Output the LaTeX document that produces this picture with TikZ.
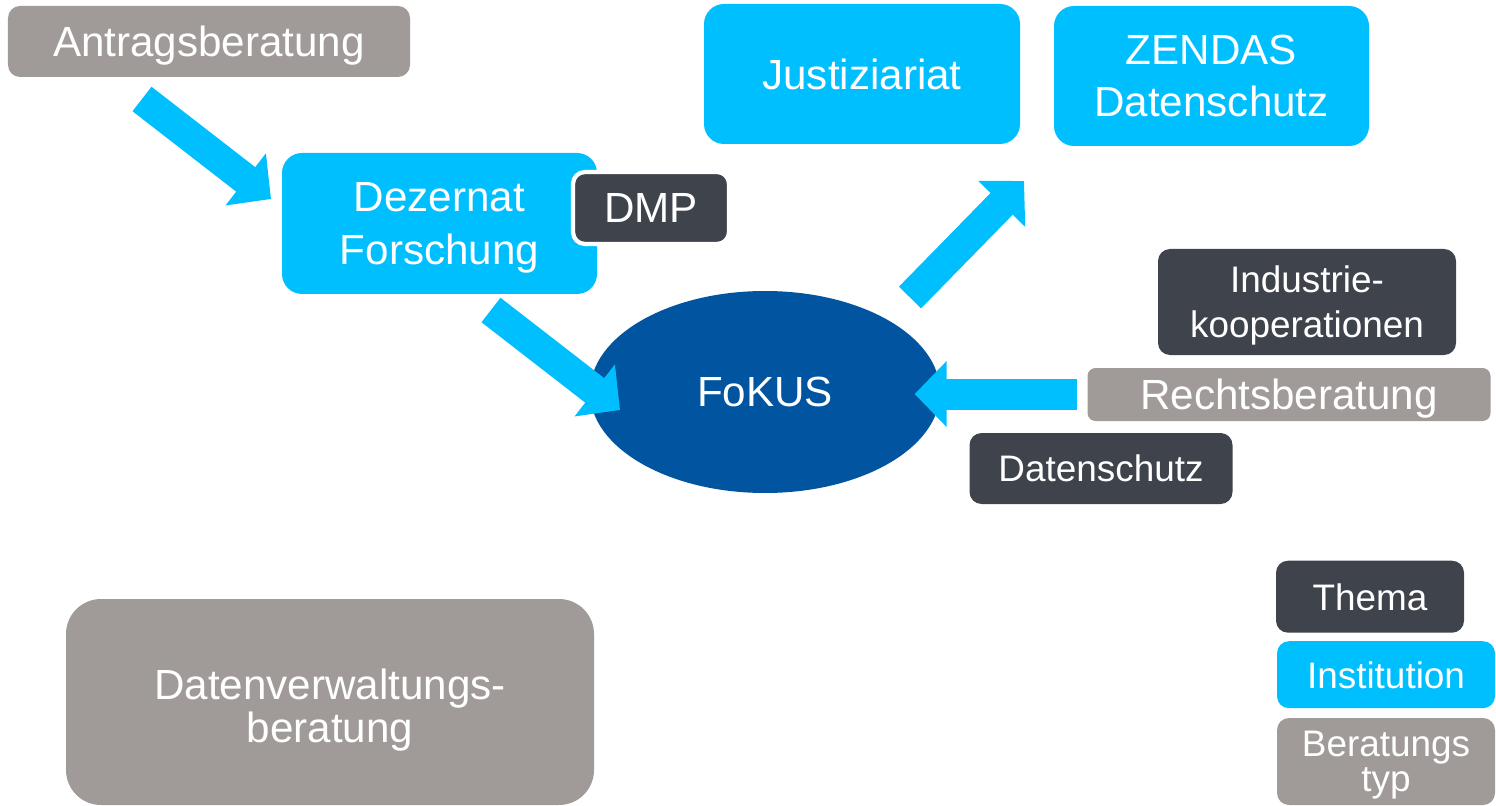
\documentclass[tikz,border=0pt]{standalone}
\usepackage{fontspec}
\setmainfont{Liberation Sans}
\usetikzlibrary{arrows.meta,shapes.geometric}

\definecolor{instcol}{RGB}{0,191,255}
\definecolor{themecol}{RGB}{63,68,76}
\definecolor{typecol}{RGB}{160,155,152}
\definecolor{fokuscol}{RGB}{0,84,160}

\begin{document}
\begin{tikzpicture}[
  instbox/.style={fill=instcol, rounded corners=2mm, align=center, text=white, inner sep=0pt, text depth=0pt, font=\fontsize{12}{14.8}\selectfont},
  themebox/.style={fill=themecol, rounded corners=1.2mm, align=center, text=white, inner sep=0pt, text depth=0pt, font=\fontsize{10.5}{12.8}\selectfont},
  typebox/.style={fill=typecol, rounded corners=1.2mm, align=center, text=white, inner sep=0pt, text depth=0pt, font=\fontsize{12}{14.8}\selectfont},
  arr/.style={-{Triangle[length=3.2mm, width=6.4mm]}, line width=3.1mm, instcol}
]
\useasboundingbox (0,0) rectangle (14.96,8.05);

% Beratung and institutions
\node[typebox, minimum width=40.2mm, minimum height=7.1mm] (antrag) at (2.09,7.635) {Antragsberatung};
\node[instbox, minimum width=31.5mm, minimum height=14.1mm] (dezernat) at (4.395,5.815) {Dezernat\\Forschung};
\node[themebox, draw=white, line width=1.2pt, minimum width=15.6mm, minimum height=7.2mm, font=\fontsize{12}{14.8}\selectfont] (dmp) at (6.51,5.97) {DMP};

% Center
\node[ellipse, fill=fokuscol, text=white, minimum width=35mm, minimum height=20.2mm, font=\fontsize{12}{14.8}\selectfont] (fokus) at (7.65,4.13) {FoKUS};

% Top right
\node[instbox, minimum width=31.6mm, minimum height=14mm] (justiz) at (8.62,7.31) {Justiziariat};
\node[instbox, minimum width=31.5mm, minimum height=14mm] (zendas) at (12.115,7.29) {ZENDAS\\Datenschutz};

% Right
\node[themebox, minimum width=29.8mm, minimum height=10.6mm] (indus) at (13.07,5.03) {Industrie-\\kooperationen};
\node[typebox, rounded corners=0.8mm, minimum width=40.3mm, minimum height=5.3mm] (recht) at (12.89,4.105) {Rechtsberatung};
\node[themebox, minimum width=26.3mm, minimum height=7.1mm] (daten) at (11.01,3.365) {Datenschutz};

% Bottom left
\node[typebox, rounded corners=3.5mm, minimum width=52.8mm, minimum height=20.6mm, text height=8mm, font=\fontsize{12}{12}\selectfont] (verw) at (3.30,1.03) {Datenverwaltungs-\\beratung};

% Legend
\node[themebox, minimum width=18.8mm, minimum height=7.2mm] (thema) at (13.70,2.083) {Thema};
\node[instbox, rounded corners=1.2mm, minimum width=21.8mm, minimum height=6.7mm, font=\fontsize{10.5}{12.8}\selectfont] (inst) at (13.86,1.303) {Institution};
\node[typebox, minimum width=21.8mm, minimum height=8.7mm, font=\fontsize{10.5}{10}\selectfont] (typ) at (13.86,0.435) {Beratungs\\typ};

% Arrow ends
\coordinate (antrag-out) at (1.42,7.06);
\coordinate (dezernat-in) at (2.71,6.06);
\coordinate (dezernat-out) at (4.91,4.95);
\coordinate (fokus-in) at (6.20,3.95);
\coordinate (fokus-out) at (9.10,5.075);
\coordinate (justiz-in) at (10.24,6.24);
\coordinate (recht-out) at (10.765,4.11);
\coordinate (fokus-right) at (9.146,4.11);

% Arrows
\draw[arr] (antrag-out) -- (dezernat-in);
\draw[arr] (dezernat-out) -- (fokus-in);
\draw[arr] (fokus-out) -- (justiz-in);
\draw[arr] (recht-out) -- (fokus-right);
\end{tikzpicture}
\end{document}
